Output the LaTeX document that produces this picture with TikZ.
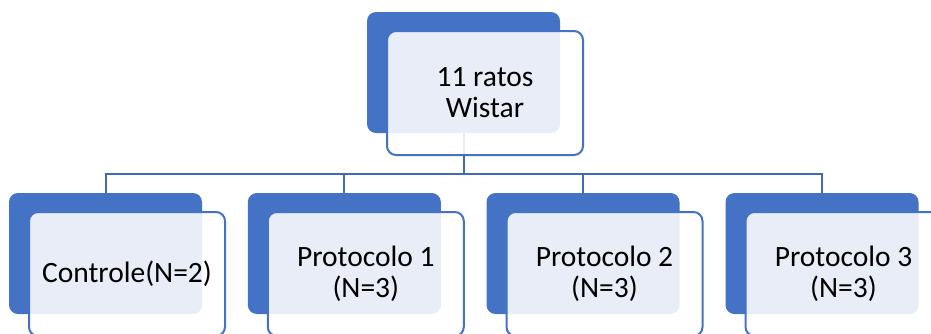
\documentclass[tikz,border=0pt]{standalone}
\usepackage{fontspec}
\setmainfont{Carlito}
\usetikzlibrary{positioning}
\definecolor{smartblue}{HTML}{4472C4}
\definecolor{linkblue}{HTML}{4169B8}

\begin{document}
\begin{tikzpicture}[x=1pt,y=-1pt,
    backbox/.style={fill=smartblue,rounded corners=9pt,inner sep=0pt,
      minimum width=193pt,minimum height=121pt},
    frontbox/.style={draw=smartblue,line width=2pt,fill=white,fill opacity=0.88,
      text opacity=1,rounded corners=9pt,inner sep=0pt,align=center,
      minimum width=196pt,minimum height=124pt,
      font=\fontsize{29.5}{31}\selectfont},
    link/.style={draw=linkblue,line width=2pt}]
  \clip (0,0) rectangle (931,333);
  % back boxes
  \node[backbox] (ratsback) at (463.5,72.5) {};
  \foreach \name/\x in {ctrl/105.5,proto1/344.3,proto2/583,proto3/822}
    \node[backbox] (\name back) at (\x,253.5) {};
  % connectors
  \coordinate (split) at ([yshift=-41pt]ratsback.south);
  \draw[link] (ratsback.south) -- (split);
  \foreach \name in {ctrl,proto1,proto2,proto3}
    \draw[link] (split) -| (\name back.north);
  % front boxes with the text
  \node[frontbox] (rats) at ([shift={(21.5,20.5)}]ratsback) {\raisebox{-2pt}{11 ratos}\\\raisebox{-2pt}{Wistar}};
  \foreach \name/\txt in {ctrl/{\raisebox{-2pt}{Controle(N=2)}},
      proto1/{\raisebox{-2pt}{Protocolo 1}\\\raisebox{-2pt}{(N=3)}},
      proto2/{\raisebox{-2pt}{Protocolo 2}\\\raisebox{-2pt}{(N=3)}},
      proto3/{\raisebox{-2pt}{Protocolo 3}\\\raisebox{-2pt}{(N=3)}}}
    \node[frontbox] (\name) at ([shift={(21.5,20.5)}]\name back) {\txt};
\end{tikzpicture}
\end{document}
